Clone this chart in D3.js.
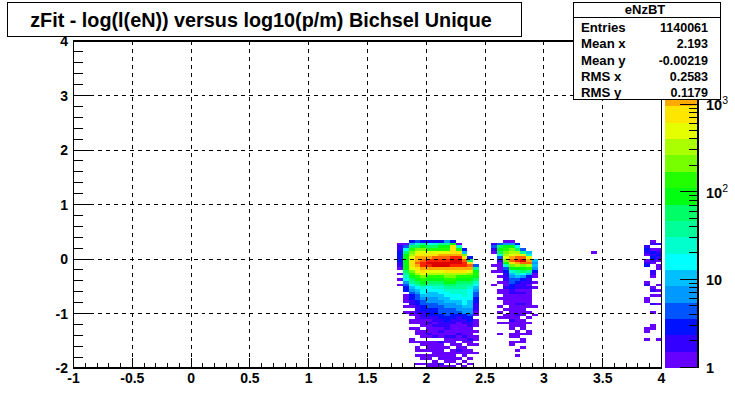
<!DOCTYPE html>
<html><head><meta charset="utf-8">
<script src="https://cdn.jsdelivr.net/npm/d3@7"></script>
<style>html,body{margin:0;background:#fff}svg{display:block}text{font-family:"Liberation Sans",Arial,sans-serif;font-weight:bold;fill:#000}</style>
</head><body><div id="c"></div>
<script>
const titleText = "zFit - log(l(eN)) versus log10(p/m) Bichsel Unique";
const statName = "eNzBT";
const statRows = [["Entries","1140061"],["Mean x","2.193"],["Mean y","-0.00219"],["RMS x","0.2583"],["RMS y","0.1179"]];
const xTicks = [-1,-0.5,0,0.5,1,1.5,2,2.5,3,3.5,4];
const yTicks = [-2,-1,0,1,2,3,4];
const zTicks = [[1,"1",""],[10,"10",""],[100,"10","2"],[1000,"10","3"]];
const palette = ["#6600ff","#3300ff","#0011ff","#0055ff","#0099ff","#00c0ff","#00ffff","#00ffcc","#00ff99","#00ff66","#00ff11","#22ff00","#77ff00","#aaff00","#e6ff00","#ffe600","#ffaa00","#ff6600","#ff2200","#dd0000"];
// column strings: first bin low edge in x, then base-36 colour level per row from y=0.35 downward (spaces group every ten rows)
const clumpA = [
 [1.75,"0122333322 1010101000"],
 [1.80,"0147abbbbb ba98754330 1110101000"],
 [1.85,"36acdefggg fdcba97654 3322101101 1010001100"],
 [1.90,"48adfghhih gfecba9765 4433222111 1011100101 1010010"],
 [1.95,"39bdfghijj hgfdcba877 6544332221 1101110110 1011010"],
 [2.00,"37acfghjkj hfecba9776 6554433321 2111210111 1011011"],
 [2.05,"38acfgijkk hfecba9876 6554433322 1211120111 1110111"],
 [2.10,"39bcfhijkk hfecba9877 6655444332 2212110211 1111021"],
 [2.15,"59bcfhijkk hgedcba987 7665544433 2221121101 0111101"],
 [2.20,"3bggghjkkj hgedcba988 7765544332 2111121110 1111101"],
 [2.25,"018cghjkkj hgecba9988 7766554322 1111211011 2101010"],
 [2.30,"00036dgijj hgecba9988 8777655332 2111121101 1110101"],
 [2.35,"0000003agi hfdcba9877 7766655433 2211112110 1101010"],
 [2.40,"0000000004 9bcba87654 4332221101 1101011010 0100"]
];
const clumpB = [
 [2.55,"0242100001 01000010"],
 [2.60,"04aba84211 1101010011 0100101010 10001"],
 [2.65,"15bcdefdb8 4322211211 1111010110 1"],
 [2.70,"15bdefhigd b865443322 1111111112 1110110110 0"],
 [2.75,"037aegijhe b986432212 1112111211 1101110100 101"],
 [2.80,"00049fikid ba75322212 1112111101 1110101101 0"],
 [2.85,"000068fhie c963221211 1111101010 10011"],
 [2.90,"0000000656 5311010100 000010010"]
];
const clumpC = [
 [3.40,"00001"],
 [3.85,"0023210123 0000012000 0110000000 0011001"],
 [3.90,"1201323210 0221000120 1002001000 01100"],
 [3.95,"0201232101 1000001010 1001000000 0000001"]
];
const columns = clumpA.concat(clumpB, clumpC);

const plot = {l:73.5,r:661.5,t:41,b:368};
const x = d3.scaleLinear().domain([-1,4]).range([plot.l,plot.r]);
const y = d3.scaleLinear().domain([-2,4]).range([plot.b,plot.t]);
const z = d3.scaleLog().domain([1,5250]).range([367,41]);
const svg = d3.select("#c").append("svg").attr("width",735).attr("height",408);

const g = svg.append("g").attr("shape-rendering","crispEdges");
columns.forEach(([x0,s])=>{
  [...s.replace(/ /g,"")].forEach((ch,i)=>{
    const lv = parseInt(ch,36);
    if(!lv) return;
    const yTop = 0.35-i*0.05;
    g.append("rect").attr("x",x(x0)).attr("width",x(x0+0.05)-x(x0))
     .attr("y",y(yTop)).attr("height",y(yTop-0.05)-y(yTop)).attr("fill",palette[lv-1]);
  });
});

const grid = svg.append("g").attr("stroke","#000").attr("stroke-dasharray","4 4").attr("shape-rendering","crispEdges");
xTicks.slice(1,-1).forEach(t=>grid.append("line").attr("x1",x(t)).attr("x2",x(t)).attr("y1",plot.t).attr("y2",plot.b));
yTicks.slice(1,-1).forEach(t=>grid.append("line").attr("x1",plot.l).attr("x2",plot.r).attr("y1",y(t)).attr("y2",y(t)));

const ax = svg.append("g").attr("stroke","#000").attr("shape-rendering","crispEdges");
ax.append("rect").attr("x",plot.l).attr("y",plot.t).attr("width",plot.r-plot.l).attr("height",plot.b-plot.t).attr("fill","none").attr("stroke-width",1.4);
d3.range(-1,4.001,0.1).forEach((t,i)=>{const L=i%5===0?10:5;
  ax.append("line").attr("x1",x(t)).attr("x2",x(t)).attr("y1",plot.b).attr("y2",plot.b-L);});
d3.range(-2,4.001,0.2).forEach((t,i)=>{const L=i%5===0?18:9;
  ax.append("line").attr("x1",plot.l).attr("x2",plot.l+L).attr("y1",y(t)).attr("y2",y(t));});
xTicks.forEach(t=>svg.append("text").attr("x",x(t)).attr("y",383).attr("text-anchor","middle").attr("font-size",14).text(t));
yTicks.forEach(t=>svg.append("text").attr("x",68).attr("y",y(t)+5).attr("text-anchor","end").attr("font-size",14).text(t));

const cb = svg.append("g").attr("shape-rendering","crispEdges");
palette.forEach((c,i)=>{
  const h=(368-41)/palette.length;
  cb.append("rect").attr("x",665).attr("width",33).attr("y",368-(i+1)*h).attr("height",h).attr("fill",c);
});
cb.append("line").attr("x1",698).attr("x2",698).attr("y1",41).attr("y2",368).attr("stroke","#000").attr("stroke-width",1.2);
const minor=[];
[1,10,100,1000].forEach(d=>d3.range(1,10).forEach(m=>{if(d*m<=5250)minor.push([d*m,m===1]);}));
minor.forEach(([v,maj])=>cb.append("line").attr("x1",698).attr("x2",maj?680:689).attr("y1",z(v)).attr("y2",z(v)).attr("stroke","#000"));
zTicks.forEach(([v,l,e])=>{
  const t=svg.append("text").attr("x",706).attr("y",z(v)+6).attr("font-size",14.5).text(l);
  if(e) t.append("tspan").attr("dy",-6).attr("font-size",10.5).attr("font-weight","normal").text(e);
});

svg.append("rect").attr("x",7.5).attr("y",2.5).attr("width",514).attr("height",34).attr("fill","#fff").attr("stroke","#000");
svg.append("text").attr("x",261).attr("y",27).attr("text-anchor","middle").attr("font-size",19.8).text(titleText);

svg.append("rect").attr("x",573.5).attr("y",2.5).attr("width",147).attr("height",97).attr("fill","#fff").attr("stroke","#000");
svg.append("line").attr("x1",574).attr("x2",720).attr("y1",17.5).attr("y2",17.5).attr("stroke","#000");
svg.append("text").attr("x",645).attr("y",14).attr("text-anchor","middle").attr("font-size",13).text(statName);
statRows.forEach(([a,b],i)=>{
  svg.append("text").attr("x",581).attr("y",32+i*16.3).attr("font-size",13.2).text(a);
  svg.append("text").attr("x",708).attr("y",32+i*16.3).attr("text-anchor","end").attr("font-size",12.5).text(b);
});
</script></body></html>
